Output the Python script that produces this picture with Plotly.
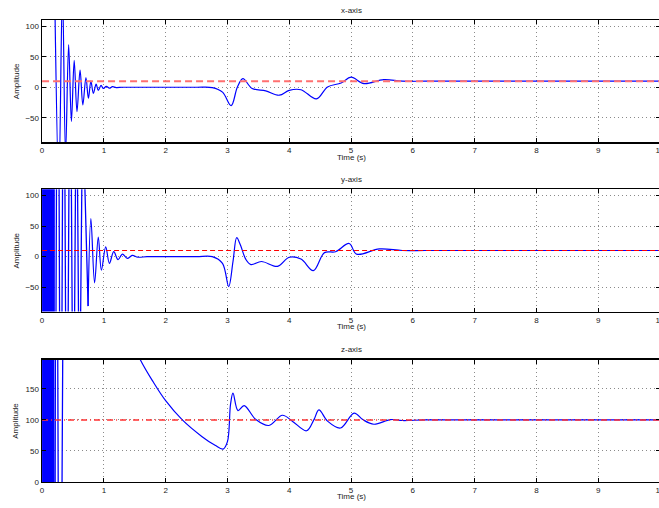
import plotly.graph_objects as go

# ---------------- data ----------------
x_t = [0.0, 0.10, 0.17, 0.27, 0.33, 0.38, 0.43, 0.475, 0.52, 0.565, 0.615, 0.66, 0.71,
       0.75, 0.79, 0.83, 0.875, 0.91, 0.955, 0.99, 1.04, 1.09, 1.14, 1.20, 1.30, 1.50,
       2.0, 2.5, 2.755, 2.92, 3.06, 3.16, 3.25, 3.40, 3.62, 3.84, 4.0, 4.19, 4.44, 4.62,
       4.84, 5.0, 5.21, 5.53, 5.83, 6.2, 7.0, 8.0, 9.0, 10.0]
x_v = [900, 600, 350, -160, 160, -110, 70, -56, 44, -40, 28, -29, 16,
       -18, 10, -10, 5, -5, 3, -2, 1.5, -1.5, 1, -0.5, 0, 0,
       0, 0, -0.5, -8, -30, 0, 14, -2, -6, -13, -5, -4, -19, 0.5,
       7, 16.5, 6, 12.6, 10, 10, 10, 10, 10, 10]

y_burst_t = [0.000, 0.008, 0.016, 0.024, 0.032, 0.040, 0.048, 0.056, 0.064, 0.072,
             0.080, 0.088, 0.096, 0.104, 0.112, 0.120, 0.128, 0.136, 0.144, 0.152,
             0.160, 0.168, 0.176, 0.184, 0.192, 0.200, 0.254, 0.302, 0.349, 0.400,
             0.454, 0.506, 0.557, 0.605, 0.656, 0.745]
y_burst_v = [1000, -1000, 1000, -1000, 1000, -1000, 1000, -1000, 1000, -1000,
             1000, -1000, 1000, -1000, 1000, -1000, 1000, -1000, 1000, -1000,
             1000, -1000, 1000, -1000, 1000, -800, 700, -600, 550, -500,
             450, -400, 350, -300, 250, -81]
y_t = [0.745, 0.79, 0.85, 0.91, 0.96, 1.03, 1.09, 1.16, 1.23, 1.30, 1.38, 1.46, 1.55,
       1.70, 2.0, 2.5, 2.755, 2.92, 3.02, 3.09, 3.15, 3.21, 3.30, 3.38, 3.55, 3.81,
       4.0, 4.19, 4.39, 4.57, 4.75, 4.97, 5.09, 5.46, 5.83, 6.2, 7.0, 8.0, 9.0, 10.0]
y_v = [-81, 62, -43, 32, -22, 16, -11, 8, -5, 4, -3, 2, -1,
       0, 0, 0, 0, -11, -49, -8, 31, 19, -5, -13, -8, -16,
       -1, -4, -23, 6.5, 8, 21.5, 4, 12.5, 10, 10, 10, 10, 10, 10]

z_burst_t = [0.000, 0.008, 0.016, 0.024, 0.032, 0.040, 0.048, 0.056, 0.064, 0.072,
             0.080, 0.088, 0.096, 0.104, 0.112, 0.120, 0.128, 0.136, 0.144, 0.152,
             0.160, 0.168, 0.176, 0.184, 0.192, 0.230, 0.285, 0.360]
z_burst_v = [1000, -1000, 1000, -1000, 1000, -1000, 1000, -1000, 1000, -1000,
             1000, -1000, 1000, -1000, 1000, -1000, 1000, -1000, 1000, -1000,
             1000, -1000, 1000, 1000, -1000, 900, -700, 670]
z_t = [0.36, 0.60, 1.0, 1.3, 1.59, 1.8, 2.0, 2.27, 2.59, 2.8, 2.93, 3.0, 3.05, 3.09,
       3.17, 3.27, 3.46, 3.67, 3.89, 4.05, 4.28, 4.40, 4.48, 4.62, 4.83, 5.05, 5.19,
       5.37, 5.64, 5.83, 6.2, 7.0, 8.0, 9.0, 10.0]
z_v = [670, 530, 355, 263, 197, 161, 131, 100, 73, 59, 53, 65, 125, 143,
       115, 123, 100.5, 91, 107.5, 98, 82.5, 100.5, 116, 98, 87, 111, 100.5,
       93, 100.5, 99, 100, 100, 100, 100, 100]

ref_t = [0, 10]
x_ref = [10, 10]
y_ref = [10, 10]
z_ref = [100, 100]

panel_titles = ["x-axis", "y-axis", "z-axis"]
x_ticks = [0, 1, 2, 3, 4, 5, 6, 7, 8, 9, 10]
xy_yticks = [-50, 0, 50, 100]
z_yticks = [0, 50, 100, 150]

# ---------------- figure ----------------
W, H = 667, 514            # page appears slightly downscaled to the 659x508 shot
SX, SY = W / 659, H / 508  # target pixel -> page pixel
FONT = "Liberation Sans, Arial, Helvetica, sans-serif"
BLUE = "#0000ff"

fig = go.Figure()

def line(xs, ys, ax, shape="spline", width=1.2):
    fig.add_trace(go.Scatter(x=xs, y=ys, mode="lines", xaxis="x" + ax, yaxis="y" + ax,
                             line=dict(color=BLUE, width=width, shape=shape,
                                       smoothing=1 if shape == "spline" else None),
                             hoverinfo="skip", showlegend=False))

line(x_t, x_v, "")
line(y_burst_t, y_burst_v, "2", shape="linear", width=1.3)
line(y_t, y_v, "2")
line(z_burst_t, z_burst_v, "3", shape="linear", width=1.3)
line(z_t, z_v, "3")

fig.add_trace(go.Scatter(x=ref_t, y=x_ref, mode="lines", xaxis="x", yaxis="y",
                         line=dict(color="#ff7070", width=2, dash="7px,4px"),
                         hoverinfo="skip", showlegend=False))
fig.add_trace(go.Scatter(x=ref_t, y=y_ref, mode="lines", xaxis="x2", yaxis="y2",
                         line=dict(color="#ff0000", width=1.2, dash="5px,3px"),
                         hoverinfo="skip", showlegend=False))
fig.add_trace(go.Scatter(x=ref_t, y=z_ref, mode="lines", xaxis="x3", yaxis="y3",
                         line=dict(color="#ff3030", width=1.5, dash="6px,3px,1px,3px"),
                         hoverinfo="skip", showlegend=False))

# panel pixel boxes in target pixels (top, bottom)
panels = [(20, 142), (189, 311), (359, 481)]
x_left, x_right = 40, 657

common = dict(showline=True, linecolor="black", linewidth=1.5, mirror="allticks",
              ticks="inside", ticklen=4, tickwidth=1, tickcolor="black",
              showgrid=True, gridcolor="#8a8a8a", gridwidth=1, griddash="1px,3px",
              zeroline=False, tickfont=dict(family=FONT, size=8, color="#222"))

layout = dict(width=W, height=H, margin=dict(l=0, r=0, t=0, b=0),
              paper_bgcolor="white", plot_bgcolor="white", showlegend=False,
              font=dict(family=FONT, size=8, color="#222"))

yranges = [[-90, 110], [-90, 110], [0, 197]]
yticks = [xy_yticks, xy_yticks, z_yticks]
annotations = []
for i, (top, bot) in enumerate(panels):
    sfx = "" if i == 0 else str(i + 1)
    layout["xaxis" + sfx] = dict(common, domain=[x_left / 659, x_right / 659], range=[0, 10],
                                 tickvals=x_ticks, anchor="y" + sfx,
                                 ticklabeloverflow="allow")
    layout["yaxis" + sfx] = dict(common, domain=[1 - bot / 508, 1 - top / 508],
                                 range=yranges[i], tickvals=yticks[i], anchor="x" + sfx)
    cx = (x_left + x_right) / 2 / 659
    annotations.append(dict(text=panel_titles[i], x=cx, y=1 - (top - 10) / 508,
                            xref="paper", yref="paper", showarrow=False,
                            xanchor="center", yanchor="middle",
                            font=dict(family=FONT, size=8, color="#222")))
    annotations.append(dict(text="Time (s)", x=cx, y=1 - (bot + 15) / 508,
                            xref="paper", yref="paper", showarrow=False,
                            xanchor="center", yanchor="middle",
                            font=dict(family=FONT, size=8, color="#222")))
    annotations.append(dict(text="Amplitude", x=14 / 659, y=1 - (top + bot) / 2 / 508,
                            xref="paper", yref="paper", showarrow=False, textangle=-90,
                            xanchor="center", yanchor="middle",
                            font=dict(family=FONT, size=8, color="#222")))
layout["annotations"] = annotations

fig.update_layout(**layout)
fig.write_html("out.html",
               config={"displayModeBar": False, "staticPlot": True},
               post_script=("document.body.style.margin='0';"
                            "document.body.style.padding='0';"
                            "document.body.style.overflow='hidden';"
                            "document.documentElement.style.overflow='hidden';"))
